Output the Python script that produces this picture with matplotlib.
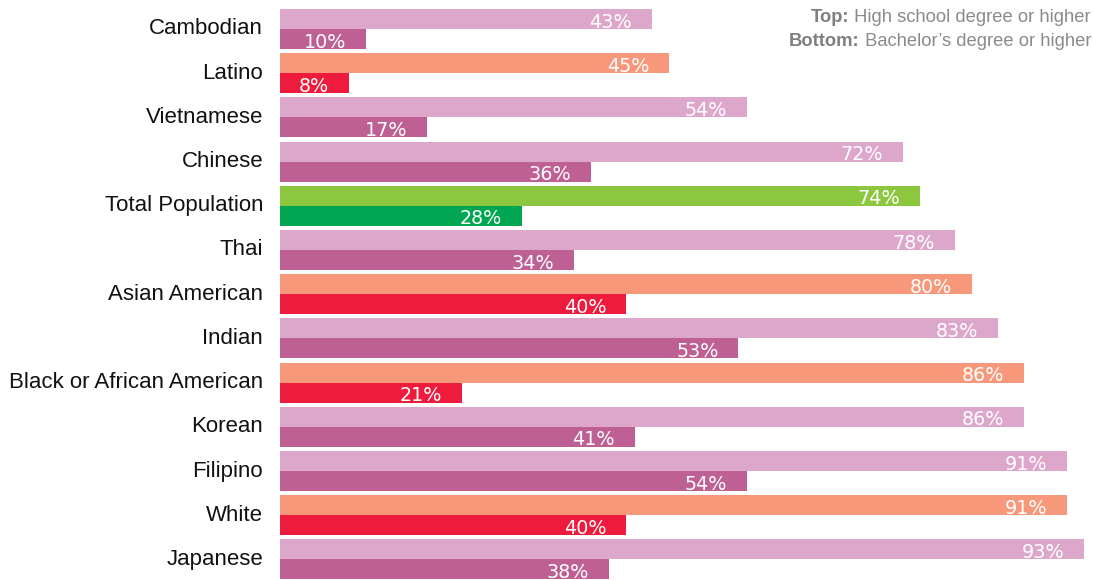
import matplotlib.pyplot as plt
import numpy as np

# data, top to bottom
groups = ['Cambodian', 'Latino', 'Vietnamese', 'Chinese', 'Total Population', 'Thai',
          'Asian American', 'Indian', 'Black or African American', 'Korean',
          'Filipino', 'White', 'Japanese']
high_school = [43, 45, 54, 72, 74, 78, 80, 83, 86, 86, 91, 91, 93]
bachelor = [10, 8, 17, 36, 28, 34, 40, 53, 21, 41, 54, 40, 38]
kind = ['asian', 'race', 'asian', 'asian', 'total', 'asian',
        'race', 'asian', 'race', 'asian', 'asian', 'race', 'asian']

colors = {
    'asian': ('#DDA7CB', '#BF6094'),
    'race': ('#F7987A', '#EE1B3D'),
    'total': ('#8DC63F', '#00A651'),
}

fig = plt.figure(figsize=(10.93, 5.8), dpi=100)
ax = fig.add_axes([280 / 1093, 0, 1 - 280 / 1093, 1])

h = 0.4525
y = np.arange(len(groups))
top_c = [colors[k][0] for k in kind]
bot_c = [colors[k][1] for k in kind]
ax.barh(y - h / 2, high_school, height=h, color=top_c, linewidth=0)
ax.barh(y + h / 2, bachelor, height=h, color=bot_c, linewidth=0)

fig.canvas.draw()
r = fig.canvas.get_renderer()

# pick label size so the longest name is ~255px wide (condensed look in ref)
lab_font = ['Liberation Sans', 'DejaVu Sans']
probe = fig.text(0, 0, 'Black or African American', fontsize=16, family=lab_font)
lab_size = 16 * 255 / probe.get_window_extent(r).width
probe.remove()

for i in range(len(groups)):
    ax.text(high_school[i] - 2.3, y[i] - 0.03, f'{high_school[i]}%', color='white',
            ha='right', va='baseline', fontsize=13.8)
    ax.text(bachelor[i] - 2.3, y[i] + h - 0.03, f'{bachelor[i]}%', color='white',
            ha='right', va='baseline', fontsize=13.8)
    ax.text(-1.95, y[i], groups[i], ha='right', va='center', fontsize=lab_size,
            family=lab_font, color='#111111')

ax.set_xlim(0, 94)
ax.set_ylim(12.466, -0.656)
ax.axis('off')

# legend text top right
lf = ['Liberation Sans', 'DejaVu Sans']
for yy, b, t in [(17, 'Top:', ' High school degree or higher'),
                 (41, 'Bottom:', ' Bachelor\u2019s degree or higher')]:
    tx = fig.text(1091 / 1093, 1 - yy / 580, t, ha='right', va='center',
                  fontsize=13.2, color='#8a8a8a', family=lf)
    bb = tx.get_window_extent(r)
    fig.text(bb.x0 / 1093, 1 - yy / 580, b, ha='right', va='center',
             fontsize=13.2, color='#7f7f7f', family=lf, fontweight='bold')

fig.savefig('out.png', dpi=100)
